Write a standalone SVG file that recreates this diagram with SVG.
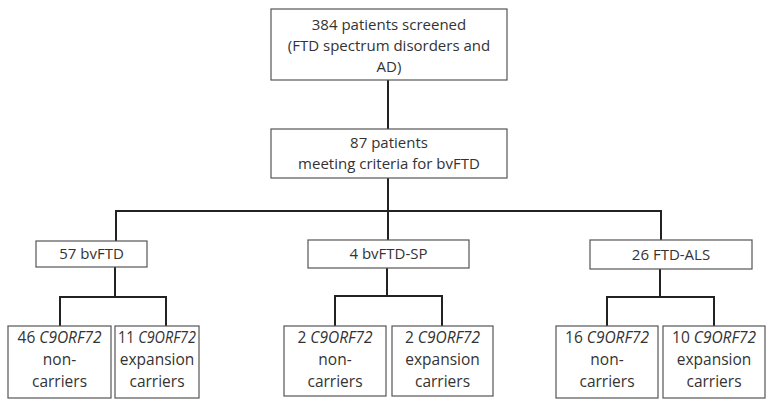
<svg xmlns="http://www.w3.org/2000/svg" width="775" height="406" viewBox="0 0 775 406">
<style>
rect{fill:#fff;stroke:#555;stroke-width:1.2}
text{font-family:"Open Sans","Liberation Sans",sans-serif;font-size:15px;fill:#333;text-anchor:middle}
.b text{font-size:15.5px}
.c line{stroke:#222;stroke-width:2}
</style>
<rect x="0" y="0" width="775" height="406" style="stroke:none"/>
<g class="c" id="connectors">
<line x1="388" y1="80" x2="388" y2="129"/>
<line x1="388" y1="178" x2="388" y2="211"/>
<line x1="115" y1="211" x2="662" y2="211"/>
<line x1="116" y1="211" x2="116" y2="241"/>
<line x1="388" y1="211" x2="388" y2="240"/>
<line x1="661" y1="211" x2="661" y2="240"/>
<line x1="115" y1="267" x2="115" y2="297"/>
<line x1="59" y1="297" x2="167" y2="297"/>
<line x1="60" y1="297" x2="60" y2="326"/>
<line x1="166" y1="297" x2="166" y2="326"/>
<line x1="387" y1="268" x2="387" y2="296"/>
<line x1="334" y1="296" x2="443" y2="296"/>
<line x1="335" y1="296" x2="335" y2="326"/>
<line x1="442" y1="296" x2="442" y2="326"/>
<line x1="660" y1="269" x2="660" y2="297"/>
<line x1="606" y1="297" x2="715" y2="297"/>
<line x1="607" y1="297" x2="607" y2="326"/>
<line x1="714" y1="297" x2="714" y2="326"/>
</g>
<g id="n1"><rect x="271" y="9" width="236" height="71"/>
<text x="389" y="30">384 patients screened</text>
<text x="389" y="51">(FTD spectrum disorders and</text>
<text x="389" y="72">AD)</text></g>
<g id="n2"><rect x="271" y="129" width="236" height="49"/>
<text x="389" y="148">87 patients</text>
<text x="389" y="169">meeting criteria for bvFTD</text></g>
<g id="n3"><rect x="36" y="241" width="111" height="26"/>
<text x="91.5" y="259">57 bvFTD</text></g>
<g id="n4"><rect x="308" y="240" width="161" height="28"/>
<text x="388.5" y="259">4 bvFTD-SP</text></g>
<g id="n5"><rect x="590" y="240" width="162" height="29"/>
<text x="671" y="260">26 FTD-ALS</text></g>
<g class="b">
<g id="n6"><rect x="8" y="326" width="103" height="72"/>
<text x="59.5" y="343">46 <tspan font-style="italic">C9ORF72</tspan></text>
<text x="59.5" y="365">non-</text>
<text x="59.5" y="387">carriers</text></g>
<g id="n7"><rect x="115" y="326" width="84" height="72"/>
<text x="157" y="343" textLength="78" lengthAdjust="spacingAndGlyphs">11 <tspan font-style="italic">C9ORF72</tspan></text>
<text x="157" y="365">expansion</text>
<text x="157" y="387">carriers</text></g>
<g id="n8"><rect x="284" y="326" width="102" height="70"/>
<text x="335" y="343">2 <tspan font-style="italic">C9ORF72</tspan></text>
<text x="335" y="365">non-</text>
<text x="335" y="387">carriers</text></g>
<g id="n9"><rect x="392" y="326" width="101" height="70"/>
<text x="442.5" y="343">2 <tspan font-style="italic">C9ORF72</tspan></text>
<text x="442.5" y="365">expansion</text>
<text x="442.5" y="387">carriers</text></g>
<g id="n10"><rect x="556" y="326" width="102" height="72"/>
<text x="607" y="343">16 <tspan font-style="italic">C9ORF72</tspan></text>
<text x="607" y="365">non-</text>
<text x="607" y="387">carriers</text></g>
<g id="n11"><rect x="663" y="326" width="102" height="72"/>
<text x="714" y="343">10 <tspan font-style="italic">C9ORF72</tspan></text>
<text x="714" y="365">expansion</text>
<text x="714" y="387">carriers</text></g>
</g>
</svg>
